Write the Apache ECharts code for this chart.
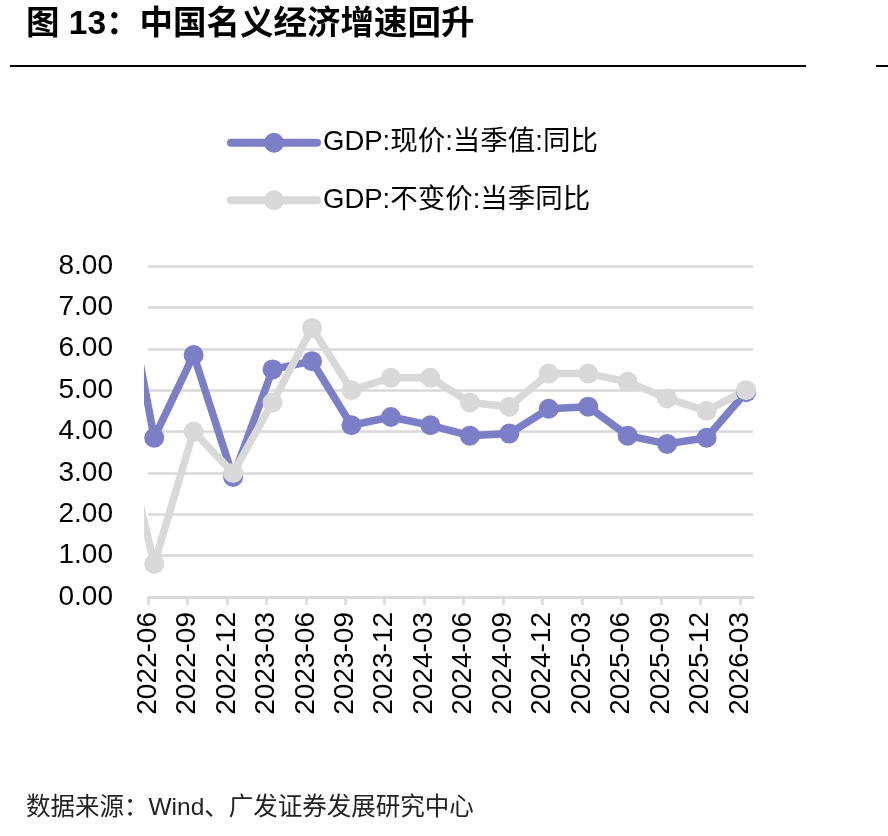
<!DOCTYPE html>
<html>
<head>
<meta charset="utf-8">
<script src="https://cdn.jsdelivr.net/npm/echarts@6/dist/echarts.min.js"></script>
<style>
  html, body { margin: 0; padding: 0; background: #fff; }
  #chart { width: 888px; height: 836px; }
</style>
</head>
<body>
<div id="chart"></div>
<script>
// quarters shown, plus one earlier point that runs off the left edge
const quarters = ['2022-03', '2022-06', '2022-09', '2022-12', '2023-03', '2023-06', '2023-09', '2023-12',
  '2024-03', '2024-06', '2024-09', '2024-12', '2025-03', '2025-06', '2025-09', '2025-12', '2026-03']
const tickLabels = quarters.slice(1)

const nominalYoY = [8.9, 3.85, 5.85, 2.9, 5.5, 5.7, 4.15, 4.35, 4.15, 3.9, 3.95, 4.55, 4.6, 3.9, 3.7, 3.85, 4.95]
const realYoY = [4.8, 0.8, 4.0, 3.0, 4.7, 6.5, 5.0, 5.3, 5.3, 4.7, 4.6, 5.4, 5.4, 5.2, 4.8, 4.5, 5.0]

const nominalName = 'GDP:现价:当季值:同比'
const realName = 'GDP:不变价:当季同比'

const PURPLE = '#7b7fc8'
const GREY = '#d9d9d9'
const FONT = '"Liberation Sans", "Noto Sans CJK SC", sans-serif'

// month index counted from 2022-00, so 2022-06 -> 6
const monthIndex = s => {
  const [y, m] = s.split('-').map(Number)
  return (y - 2022) * 12 + m
}
const monthLabel = v => {
  const y = 2022 + Math.floor((v - 1) / 12)
  const m = v - (y - 2022) * 12
  return y + '-' + String(m).padStart(2, '0')
}
// points sit at mid-month
const pointAt = (q, v) => [monthIndex(q) + 0.47, v]

const chart = echarts.init(document.getElementById('chart'), null, { renderer: 'canvas' })

const lineSeries = (name, values, color) => ({
  name,
  type: 'line',
  data: quarters.map((q, i) => pointAt(q, values[i])),
  symbol: 'circle',
  symbolSize: 20,
  clip: true,
  lineStyle: { color, width: 7.5 },
  itemStyle: { color },
  emphasis: { disabled: true },
  animation: false
})

chart.setOption({
  animation: false,
  title: [
    {
      text: '图 13：中国名义经济增速回升',
      left: 21,
      top: 3,
      textStyle: { fontFamily: FONT, fontSize: 33.5, fontWeight: 'bold', color: '#000' }
    },
    {
      text: '数据来源：Wind、广发证券发展研究中心',
      left: 21,
      top: 791,
      textStyle: { fontFamily: FONT, fontSize: 24.5, fontWeight: 'normal', color: '#222' }
    }
  ],
  graphic: [
    { type: 'rect', shape: { x: 10, y: 65, width: 796, height: 2 }, style: { fill: '#000' } },
    { type: 'rect', shape: { x: 876, y: 65, width: 12, height: 2 }, style: { fill: '#000' } }
  ],
  legend: {
    orient: 'vertical',
    left: 222,
    top: 124,
    itemWidth: 86,
    itemHeight: 25,
    itemGap: 30,
    data: [nominalName, realName],
    lineStyle: { width: 8, cap: 'round' },
    textStyle: { fontFamily: FONT, fontSize: 27.5, color: '#000', padding: [0, 0, 0, 1] }
  },
  grid: { left: 148, right: 135, top: 266, bottom: 239, containLabel: false },
  xAxis: {
    type: 'value',
    min: monthIndex(tickLabels[0]),
    max: monthIndex(tickLabels[tickLabels.length - 1]) + 1,
    splitLine: { show: false },
    axisLine: { show: true, lineStyle: { color: GREY, width: 2.5 } },
    axisTick: {
      show: true,
      length: 8,
      lineStyle: { color: GREY, width: 2.5 },
      customValues: tickLabels.map(monthIndex)
    },
    axisLabel: {
      rotate: 90,
      margin: 15,
      fontFamily: FONT,
      fontSize: 28,
      color: '#000',
      customValues: tickLabels.map(monthIndex),
      formatter: v => monthLabel(v)
    }
  },
  yAxis: {
    type: 'value',
    min: 0,
    max: 8,
    interval: 1,
    axisLine: { show: false },
    axisTick: { show: false },
    splitLine: { lineStyle: { color: GREY, width: 2.5 } },
    axisLabel: {
      margin: 35,
      fontFamily: FONT,
      fontSize: 28,
      color: '#000',
      formatter: v => v.toFixed(2)
    }
  },
  series: [
    lineSeries(nominalName, nominalYoY, PURPLE),
    lineSeries(realName, realYoY, GREY)
  ]
})
</script>
</body>
</html>
